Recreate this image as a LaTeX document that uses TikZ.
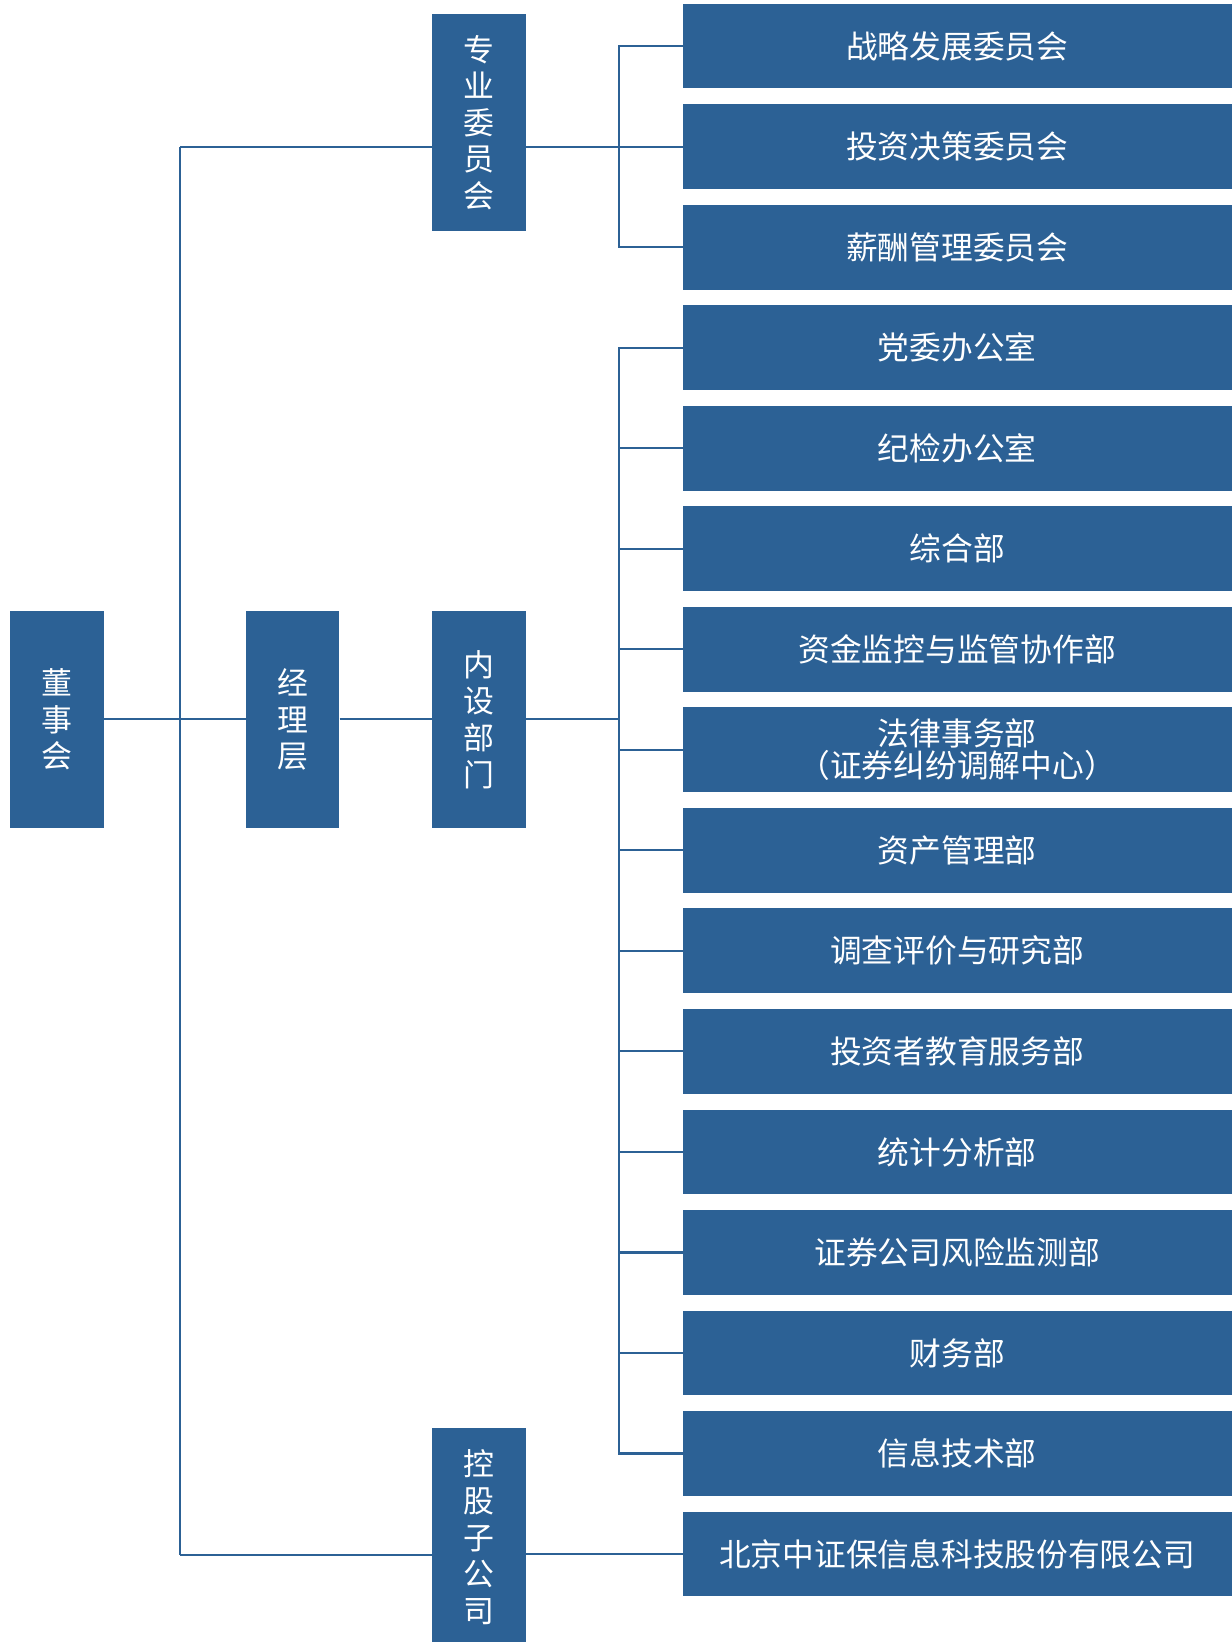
\documentclass[tikz,border=0pt]{standalone}
\usepackage{fontspec}
\setmainfont{Noto Sans CJK SC}
\definecolor{boxblue}{RGB}{44,97,149}
\begin{document}
\begin{tikzpicture}[x=1pt,y=-1pt,
  vbox/.style={fill=boxblue, text=white, minimum width=89pt, minimum height=208pt, inner sep=0pt, align=center, font=\fontsize{29.5}{35}\selectfont},
  rbox/.style={fill=boxblue, text=white, minimum width=524pt, minimum height=81pt, inner sep=0pt, align=center, font=\fontsize{30.3}{31}\selectfont},
  conn/.style={draw=boxblue, line width=2pt}]
\useasboundingbox (0,0) rectangle (1176,1568);
% left column boxes
\node[vbox] (dsh) at (54.5,687) {董\\事\\会};
\node[vbox] (jlc) at (279.5,687) {经\\理\\层};
\node[vbox] (nsbm) at (457.5,687) {内\\设\\部\\门};
\node[vbox] (zywyh) at (457.5,117) {专\\业\\委\\员\\会};
\node[vbox] (kgzgs) at (457.5,1468) {控\\股\\子\\公\\司};
% right boxes
\node[rbox] (b1) at (914,44) {战略发展委员会};
\node[rbox] (b2) at (914,140) {投资决策委员会};
\node[rbox] (b3) at (914,236) {薪酬管理委员会};
\node[rbox] (d1) at (914,332) {党委办公室};
\node[rbox] (d2) at (914,428) {纪检办公室};
\node[rbox] (d3) at (914,524) {综合部};
\node[rbox] (d4) at (914,620) {资金监控与监管协作部};
\node[rbox] (d5) at (914,716) {法律事务部\\（证券纠纷调解中心）};
\node[rbox] (d6) at (914,812) {资产管理部};
\node[rbox] (d7) at (914,908) {调查评价与研究部};
\node[rbox] (d8) at (914,1004) {投资者教育服务部};
\node[rbox] (d9) at (914,1100) {统计分析部};
\node[rbox] (d10) at (914,1196) {证券公司风险监测部};
\node[rbox] (d11) at (914,1292) {财务部};
\node[rbox] (d12) at (914,1388) {信息技术部};
\node[rbox] (s1) at (914,1484) {北京中证保信息科技股份有限公司};
% trunk
\coordinate (ttop) at (172,140);
\coordinate (tbot) at (172,1485);
\draw[conn] (ttop) -- (tbot);
\draw[conn] (ttop) -- (ttop -| zywyh.west);
\draw[conn] (tbot) -- (tbot -| kgzgs.west);
\draw[conn] (dsh.east) -- (jlc.west);
\draw[conn] (jlc.east) -- (nsbm.west);
% committee bus
\draw[conn] (b1.west) -- ++(-61,0) |- (b3.west);
\draw[conn] (zywyh.east |- b2.west) -- (b2.west);
% department bus
\draw[conn] (d1.west) -- ++(-61,0) |- (d12.west);
\foreach \i in {2,...,11}{\draw[conn] (d\i.west) -- ++(-61,0);}
\draw[conn] (nsbm.east) -- ++(89,0);
% subsidiary
\draw[conn] (kgzgs.east |- s1.west) -- (s1.west);
\end{tikzpicture}
\end{document}
